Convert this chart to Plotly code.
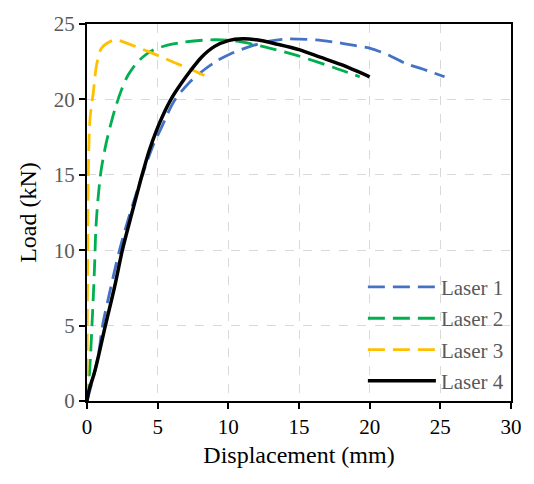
import plotly.graph_objects as go

# Laser 1 (blue)
l1_x = [0.0, 0.33, 0.8, 1.1, 1.7, 2.3, 2.9, 3.5, 4.18, 4.7, 5.23, 6.17, 7.33, 8.27, 9.2, 10.1, 11.5, 12.8, 14.0, 15.0, 16.2, 17.5, 18.8, 20.0, 21.3, 22.5, 23.8, 25.3]
l1_y = [0.0, 1.15, 3.0, 5.0, 7.6, 10.0, 12.0, 13.8, 15.7, 17.0, 18.06, 19.9, 21.2, 21.95, 22.56, 23.0, 23.5, 23.85, 24.0, 24.0, 23.95, 23.8, 23.6, 23.4, 22.95, 22.4, 22.0, 21.5]

# Laser 2 (green)
l2_x = [0.0, 0.15, 0.25, 0.35, 0.45, 0.55, 0.62, 0.77, 1.0, 1.38, 1.96, 2.43, 2.9, 3.6, 4.53, 5.7, 6.87, 8.7, 10.4, 12.5, 14.9, 17.5, 19.3]
l2_y = [0.0, 1.5, 3.0, 5.0, 7.0, 9.3, 11.3, 13.3, 15.3, 17.2, 19.3, 20.6, 21.6, 22.5, 23.2, 23.6, 23.8, 23.95, 23.9, 23.5, 22.9, 22.1, 21.5]

# Laser 3 (yellow)
l3_x = [0.0, 0.02, 0.05, 0.09, 0.21, 0.44, 0.68, 1.03, 1.96, 2.9, 4.53, 6.17, 7.57, 8.5]
l3_y = [0.0, 5.0, 10.0, 15.0, 18.7, 20.4, 22.3, 23.4, 23.95, 23.7, 23.1, 22.45, 21.9, 21.5]

# Laser 4 (black)
l4_x = [0.0, 0.14, 0.56, 1.3, 1.96, 2.5, 3.13, 3.5, 3.9, 4.4, 4.9, 5.4, 6.0, 6.7, 7.4, 8.1, 9.0, 10.0, 11.0, 12.0, 13.5, 15.0, 16.5, 18.0, 20.0]
l4_y = [0.0, 0.7, 2.0, 5.0, 7.6, 10.0, 12.3, 13.6, 15.0, 16.6, 17.9, 19.0, 20.1, 21.1, 22.0, 22.8, 23.5, 23.9, 24.02, 23.95, 23.65, 23.3, 22.8, 22.3, 21.5]

x_ticks = [0, 5, 10, 15, 20, 25, 30]
y_ticks = [0, 5, 10, 15, 20, 25]

series = [
    ("Laser 1", l1_x, l1_y, "#4472C4", "17px,8px", 2.8),
    ("Laser 2", l2_x, l2_y, "#00B050", "17px,8px", 2.8),
    ("Laser 3", l3_x, l3_y, "#FFC000", "17px,8px", 2.8),
    ("Laser 4", l4_x, l4_y, "#000000", "solid", 3.5),
]

fig = go.Figure()
for name, xs, ys, col, dash, w in series:
    fig.add_trace(go.Scatter(x=xs, y=ys, mode="lines", name=name, legendgroup=name,
                             line=dict(color=col, dash=dash, width=w, shape="spline", smoothing=0.8)))

font_family = "Liberation Serif"
grid_col = "#D9D9D9"

fig.update_layout(
    width=534, height=484,
    margin=dict(l=87, r=19, t=12, b=83),
    paper_bgcolor="white", plot_bgcolor="white",
    font=dict(family=font_family, size=21, color="#595959"),
    showlegend=True,
    legend=dict(x=0.995, y=0.356, xanchor="right", yanchor="top",
                bgcolor="rgba(0,0,0,0)", font=dict(family=font_family, size=21, color="#595959"),
                itemwidth=68, tracegroupgap=1),
    xaxis=dict(range=[0, 30], tickvals=x_ticks, showgrid=True, gridcolor=grid_col,
               griddash="dash", gridwidth=1.3,
               showline=True, linecolor="black", linewidth=2, mirror=True,
               ticks="outside", ticklen=6, tickcolor="black", tickwidth=1.5,
               tickfont=dict(size=21, color="black", family=font_family),
               zeroline=False,
               title=dict(text="Displacement (mm)", font=dict(size=24, color="black", family=font_family), standoff=8)),
    yaxis=dict(range=[0, 25], tickvals=y_ticks, showgrid=True, gridcolor=grid_col,
               griddash="dash", gridwidth=1.3,
               showline=True, linecolor="black", linewidth=2, mirror=True,
               ticks="outside", ticklen=6, tickcolor="black", tickwidth=1.5,
               tickfont=dict(size=21, color="#595959", family=font_family),
               zeroline=False,
               title=dict(text="Load (kN)", font=dict(size=24, color="black", family=font_family), standoff=10)),
)

fig.write_html("out.html")
